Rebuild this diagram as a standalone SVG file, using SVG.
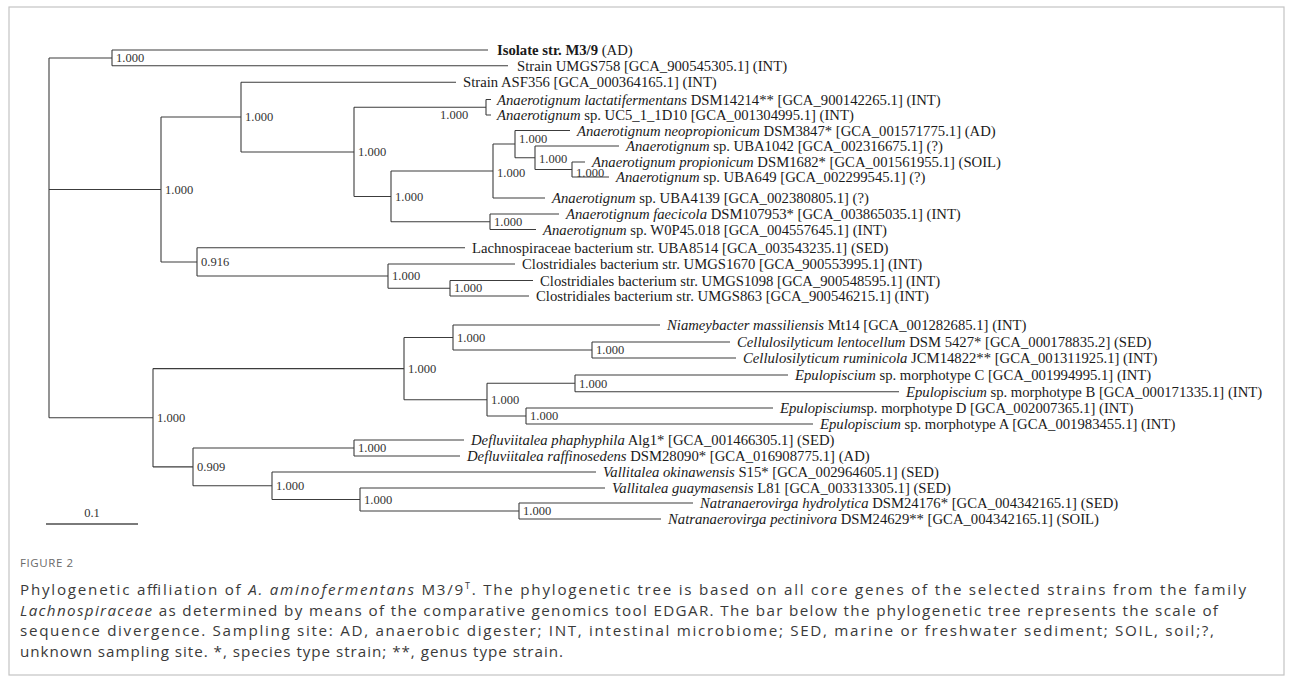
<svg xmlns="http://www.w3.org/2000/svg" width="1293" height="691" viewBox="0 0 1293 691">
<style>
.leaf{font-family:"Liberation Serif","Times New Roman",serif;font-size:14.7px;fill:#1a1a1a}
.it{font-style:italic}
.sup{font-family:"Liberation Serif","Times New Roman",serif;font-size:12.5px;fill:#333}
.tree{stroke:#3c3c3c;stroke-width:1.1;fill:none}
.cap{font-family:"Open Sans","Liberation Sans",sans-serif;font-size:15.2px;fill:#3a3a3a}
.fig{font-family:"Open Sans","Liberation Sans",sans-serif;font-size:11.5px;fill:#6a6a6a;letter-spacing:0.6px}
</style>
<rect x="9" y="7" width="1275" height="668" fill="#ffffff" stroke="#c4c4c4" stroke-width="1.2"/>
<g id="connectors">
<path class="tree" d="M49 58V417.75M49 58H112M49 189.5H161M49 417.75H153
M112 50V65.7M112 50H488M112 65.7H508
M161 117V262M161 117H241M161 262H197
M241 82.3V152M241 82.3H456M241 152H354
M354 107.3V196.5M354 107.3H486M354 196.5H391
M486 99.5V115M486 99.5H491M486 115H491
M391 171V221.75M391 171H493M391 221.75H490
M493 144V198M493 144H515M493 198H545
M515 130.5V157.75M515 130.5H570M515 157.75H535
M535 146V169.5M535 146H619M535 169.5H572
M572 162V177M572 162H585M572 177H609
M490 214V229.5M490 214H559M490 229.5H536
M197 247.7V276M197 247.7H465M197 276H388
M388 264V288.25M388 264H515M388 288.25H450
M450 280.5V296M450 280.5H533M450 296H529
M153 368.6V466.9M153 368.6H404M153 466.9H193
M404 337.5V399.7M404 337.5H453M404 399.7H487
M453 325V350M453 325H660M453 350H592
M592 342V358M592 342H730M592 358H736
M487 383.3V416M487 383.3H575M487 416H526
M575 375V391.7M575 375H788M575 391.7H899
M526 408V424M526 408H773M526 424H813
M193 448V485.75M193 448H354M193 485.75H272
M354 440V456M354 440H464M354 456H460
M272 472V499.5M272 472H596M272 499.5H360
M360 488V511M360 488H605M360 511H519
M519 503V519M519 503H693M519 519H661"/>
</g>
<g id="support-values" class="sup">
<g id="n112"><text x="116" y="62">1.000</text></g>
<g id="n161"><text x="165" y="193.5">1.000</text></g>
<g id="n241"><text x="245" y="121">1.000</text></g>
<g id="n354"><text x="358" y="156">1.000</text></g>
<g id="n486"><text x="440" y="119">1.000</text></g>
<g id="n391"><text x="395" y="201">1.000</text></g>
<g id="n493"><text x="497" y="177">1.000</text></g>
<g id="n515"><text x="519" y="143">1.000</text></g>
<g id="n535"><text x="539" y="163">1.000</text></g>
<g id="n572"><text x="576" y="177">1.000</text></g>
<g id="n490"><text x="494" y="226">1.000</text></g>
<g id="n197"><text x="201" y="266">0.916</text></g>
<g id="n388"><text x="392" y="280">1.000</text></g>
<g id="n450"><text x="454" y="292">1.000</text></g>
<g id="n153"><text x="157" y="422">1.000</text></g>
<g id="n404"><text x="408" y="373">1.000</text></g>
<g id="n453"><text x="457" y="341.5">1.000</text></g>
<g id="n592"><text x="596" y="354">1.000</text></g>
<g id="n487"><text x="491" y="404">1.000</text></g>
<g id="n575"><text x="579" y="387.5">1.000</text></g>
<g id="n526"><text x="530" y="420">1.000</text></g>
<g id="n193"><text x="197" y="471">0.909</text></g>
<g id="n354b"><text x="358" y="452">1.000</text></g>
<g id="n272"><text x="276" y="490">1.000</text></g>
<g id="n360"><text x="364" y="503.5">1.000</text></g>
<g id="n519"><text x="523" y="515">1.000</text></g>
</g>
<g id="leaves" class="leaf">
<g id="leaf-isolate"><text x="497" y="55"><tspan font-weight="bold">Isolate str. M3/9</tspan> (AD)</text></g>
<g id="leaf-umgs758"><text x="517" y="70.7">Strain UMGS758 [GCA_900545305.1] (INT)</text></g>
<g id="leaf-asf356"><text x="463" y="87.3">Strain ASF356 [GCA_000364165.1] (INT)</text></g>
<g id="leaf-lactati"><text x="497" y="104.5"><tspan class="it">Anaerotignum lactatifermentans</tspan> DSM14214** [GCA_900142265.1] (INT)</text></g>
<g id="leaf-uc5"><text x="497" y="120"><tspan class="it">Anaerotignum</tspan> sp. UC5_1_1D10 [GCA_001304995.1] (INT)</text></g>
<g id="leaf-neoprop"><text x="577" y="135.5"><tspan class="it">Anaerotignum neopropionicum</tspan> DSM3847* [GCA_001571775.1] (AD)</text></g>
<g id="leaf-uba1042"><text x="626" y="151"><tspan class="it">Anaerotignum</tspan> sp. UBA1042 [GCA_002316675.1] (?)</text></g>
<g id="leaf-propionicum"><text x="592" y="166.5"><tspan class="it">Anaerotignum propionicum</tspan> DSM1682* [GCA_001561955.1] (SOIL)</text></g>
<g id="leaf-uba649"><text x="616" y="182"><tspan class="it">Anaerotignum</tspan> sp. UBA649 [GCA_002299545.1] (?)</text></g>
<g id="leaf-uba4139"><text x="552" y="203"><tspan class="it">Anaerotignum</tspan> sp. UBA4139 [GCA_002380805.1] (?)</text></g>
<g id="leaf-faecicola"><text x="566" y="219"><tspan class="it">Anaerotignum faecicola</tspan> DSM107953* [GCA_003865035.1] (INT)</text></g>
<g id="leaf-w0p45"><text x="543" y="234.5"><tspan class="it">Anaerotignum</tspan> sp. W0P45.018 [GCA_004557645.1] (INT)</text></g>
<g id="leaf-uba8514"><text x="472" y="252.7">Lachnospiraceae bacterium str. UBA8514 [GCA_003543235.1] (SED)</text></g>
<g id="leaf-umgs1670"><text x="522" y="269">Clostridiales bacterium str. UMGS1670 [GCA_900553995.1] (INT)</text></g>
<g id="leaf-umgs1098"><text x="540" y="285.5">Clostridiales bacterium str. UMGS1098 [GCA_900548595.1] (INT)</text></g>
<g id="leaf-umgs863"><text x="536" y="301">Clostridiales bacterium str. UMGS863 [GCA_900546215.1] (INT)</text></g>
<g id="leaf-niameybacter"><text x="667" y="330"><tspan class="it">Niameybacter massiliensis</tspan> Mt14 [GCA_001282685.1] (INT)</text></g>
<g id="leaf-lentocellum"><text x="737" y="347"><tspan class="it">Cellulosilyticum lentocellum</tspan> DSM 5427* [GCA_000178835.2] (SED)</text></g>
<g id="leaf-ruminicola"><text x="743" y="363"><tspan class="it">Cellulosilyticum ruminicola</tspan> JCM14822** [GCA_001311925.1] (INT)</text></g>
<g id="leaf-epuloC"><text x="795" y="380"><tspan class="it">Epulopiscium</tspan> sp. morphotype C [GCA_001994995.1] (INT)</text></g>
<g id="leaf-epuloB"><text x="906" y="396.7"><tspan class="it">Epulopiscium</tspan> sp. morphotype B [GCA_000171335.1] (INT)</text></g>
<g id="leaf-epuloD"><text x="780" y="413"><tspan class="it">Epulopiscium</tspan>sp. morphotype D [GCA_002007365.1] (INT)</text></g>
<g id="leaf-epuloA"><text x="820" y="429"><tspan class="it">Epulopiscium</tspan> sp. morphotype A [GCA_001983455.1] (INT)</text></g>
<g id="leaf-phaphyphila"><text x="471" y="445"><tspan class="it">Defluviitalea phaphyphila</tspan> Alg1* [GCA_001466305.1] (SED)</text></g>
<g id="leaf-raffinosedens"><text x="467" y="461"><tspan class="it">Defluviitalea raffinosedens</tspan> DSM28090* [GCA_016908775.1] (AD)</text></g>
<g id="leaf-okinawensis"><text x="603" y="477"><tspan class="it">Vallitalea okinawensis</tspan> S15* [GCA_002964605.1] (SED)</text></g>
<g id="leaf-guaymasensis"><text x="612" y="493"><tspan class="it">Vallitalea guaymasensis</tspan> L81 [GCA_003313305.1] (SED)</text></g>
<g id="leaf-hydrolytica"><text x="700" y="508"><tspan class="it">Natranaerovirga hydrolytica</tspan> DSM24176* [GCA_004342165.1] (SED)</text></g>
<g id="leaf-pectinivora"><text x="668" y="524"><tspan class="it">Natranaerovirga pectinivora</tspan> DSM24629** [GCA_004342165.1] (SOIL)</text></g>
</g>
<g id="scale-bar">
<line x1="46" y1="524" x2="138" y2="524" stroke="#7a7a7a" stroke-width="1.8"/>
<text class="sup" x="92" y="517" text-anchor="middle">0.1</text>
</g>
<g id="caption">
<text class="fig" x="20" y="567">FIGURE 2</text>
<text class="cap" x="20" y="595" textLength="1226" lengthAdjust="spacing">Phylogenetic affiliation of <tspan font-style="italic">A. aminofermentans</tspan> M3/9<tspan baseline-shift="super" font-size="9px">T</tspan>. The phylogenetic tree is based on all core genes of the selected strains from the family</text>
<text class="cap" x="20" y="615.5" textLength="1198" lengthAdjust="spacing"><tspan font-style="italic">Lachnospiraceae</tspan> as determined by means of the comparative genomics tool EDGAR. The bar below the phylogenetic tree represents the scale of</text>
<text class="cap" x="20" y="636" textLength="1194" lengthAdjust="spacing">sequence divergence. Sampling site: AD, anaerobic digester; INT, intestinal microbiome; SED, marine or freshwater sediment; SOIL, soil;?,</text>
<text class="cap" x="20" y="656.5" textLength="543" lengthAdjust="spacing">unknown sampling site. *, species type strain; **, genus type strain.</text>
</g>
</svg>
